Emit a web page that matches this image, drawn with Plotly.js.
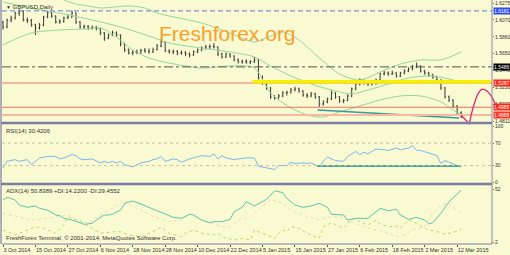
<!DOCTYPE html>
<html><head><meta charset="utf-8">
<script src="https://cdn.plot.ly/plotly-3.0.1.min.js"></script>
<style>html,body{margin:0;padding:0;background:#f9f9d2;}#chart{width:510px;height:255px;}</style>
</head><body><div id="chart"></div>
<script>
// ---------- data ----------
const firstDay = '2014-10-03';
const holidays = ['2014-12-25', '2015-01-01'];
const barCount = 114;

const open = [1.6040,1.5981,1.6068,1.6093,1.6155,1.6180,1.6068,1.6060,1.6006,1.5969,
1.6006,1.6105,1.6155,1.6117,1.6043,1.6050,1.6093,1.6105,1.6155,1.6043,
1.5981,1.5990,1.5969,1.5975,1.5960,1.5907,1.5845,1.5882,1.5907,1.5882,
1.5770,1.5696,1.5658,1.5665,1.5671,1.5690,1.5683,1.5671,1.5700,1.5745,
1.5795,1.5683,1.5671,1.5680,1.5658,1.5665,1.5646,1.5634,1.5671,1.5696,
1.5720,1.5733,1.5740,1.5733,1.5646,1.5609,1.5646,1.5621,1.5572,1.5547,
1.5555,1.5547,1.5550,1.5572,1.5348,1.5286,1.5224,1.5113,1.5100,1.5125,
1.5162,1.5170,1.5199,1.5212,1.5187,1.5137,1.5125,1.5150,1.5113,1.5026,
1.5051,1.5088,1.5162,1.5113,1.5063,1.5070,1.5125,1.5212,1.5274,1.5323,
1.5286,1.5274,1.5280,1.5323,1.5398,1.5410,1.5400,1.5410,1.5373,1.5410,
1.5435,1.5460,1.5485,1.5497,1.5435,1.5410,1.5385,1.5361,1.5323,1.5224,
1.5113,1.5075,1.5001,1.4914];
const high = [1.6060,1.6085,1.6120,1.6170,1.6200,1.6185,1.6100,1.6080,1.6020,1.6030,
1.6120,1.6180,1.6165,1.6125,1.6075,1.6110,1.6135,1.6185,1.6160,1.6055,
1.6010,1.6005,1.6000,1.5995,1.5970,1.5920,1.5900,1.5935,1.5925,1.5890,
1.5785,1.5715,1.5690,1.5700,1.5710,1.5720,1.5715,1.5725,1.5770,1.5830,
1.5800,1.5705,1.5700,1.5695,1.5690,1.5680,1.5665,1.5690,1.5715,1.5740,
1.5760,1.5765,1.5780,1.5740,1.5660,1.5665,1.5655,1.5630,1.5590,1.5575,
1.5580,1.5570,1.5610,1.5580,1.5380,1.5300,1.5235,1.5135,1.5150,1.5185,
1.5190,1.5225,1.5240,1.5230,1.5195,1.5160,1.5175,1.5165,1.5125,1.5070,
1.5105,1.5190,1.5170,1.5125,1.5090,1.5145,1.5230,1.5290,1.5345,1.5330,
1.5300,1.5305,1.5340,1.5415,1.5440,1.5430,1.5440,1.5420,1.5425,1.5455,
1.5480,1.5510,1.5540,1.5505,1.5450,1.5425,1.5400,1.5375,1.5330,1.5235,
1.5130,1.5085,1.5010,1.4935];
const low = [1.5950,1.5965,1.6040,1.6075,1.6120,1.6050,1.6030,1.5985,1.5880,1.5950,
1.5990,1.6090,1.6095,1.6025,1.6020,1.6035,1.6080,1.6095,1.6020,1.5960,
1.5955,1.5945,1.5950,1.5940,1.5880,1.5810,1.5830,1.5870,1.5860,1.5740,
1.5670,1.5640,1.5630,1.5645,1.5650,1.5660,1.5650,1.5660,1.5690,1.5730,
1.5670,1.5650,1.5645,1.5630,1.5635,1.5620,1.5605,1.5625,1.5655,1.5680,
1.5700,1.5705,1.5715,1.5620,1.5590,1.5595,1.5600,1.5555,1.5530,1.5525,
1.5525,1.5520,1.5535,1.5330,1.5265,1.5200,1.5090,1.5080,1.5090,1.5110,
1.5130,1.5155,1.5180,1.5165,1.5115,1.5100,1.5110,1.5090,1.4990,1.5005,
1.5035,1.5075,1.5090,1.5040,1.5035,1.5060,1.5110,1.5195,1.5255,1.5265,
1.5250,1.5255,1.5265,1.5310,1.5380,1.5375,1.5385,1.5355,1.5360,1.5395,
1.5420,1.5445,1.5470,1.5415,1.5390,1.5365,1.5340,1.5300,1.5200,1.5095,
1.5050,1.4975,1.4895,1.4850];
const close = [1.5981,1.6068,1.6093,1.6155,1.6180,1.6068,1.6060,1.6006,1.5969,1.6006,
1.6105,1.6155,1.6117,1.6043,1.6050,1.6093,1.6105,1.6155,1.6043,1.5981,
1.5990,1.5969,1.5975,1.5960,1.5907,1.5845,1.5882,1.5907,1.5882,1.5770,
1.5696,1.5658,1.5665,1.5671,1.5690,1.5683,1.5671,1.5700,1.5745,1.5795,
1.5683,1.5671,1.5680,1.5658,1.5665,1.5646,1.5634,1.5671,1.5696,1.5720,
1.5733,1.5740,1.5733,1.5646,1.5609,1.5646,1.5621,1.5572,1.5547,1.5555,
1.5547,1.5550,1.5572,1.5348,1.5286,1.5224,1.5113,1.5100,1.5125,1.5162,
1.5170,1.5199,1.5212,1.5187,1.5137,1.5125,1.5150,1.5113,1.5026,1.5051,
1.5088,1.5162,1.5113,1.5063,1.5070,1.5125,1.5212,1.5274,1.5323,1.5286,
1.5274,1.5280,1.5323,1.5398,1.5410,1.5400,1.5410,1.5373,1.5410,1.5435,
1.5460,1.5485,1.5497,1.5435,1.5410,1.5385,1.5361,1.5323,1.5224,1.5113,
1.5075,1.5001,1.4914,1.4864];

// Bollinger bands (bar index, price)
const bbUpperIdx = [0,9,15,18,21,24,31,35,38,41,49,56,62,66,69,73,78,83,88,93,98,103,108,113];
const bbUpper = [1.6688,1.6465,1.6316,1.6266,1.6242,1.6217,1.6242,1.6217,1.6155,1.6117,1.6031,1.5907,1.5795,1.5869,1.5919,1.5820,1.5596,1.5398,1.5323,1.5423,1.5522,1.5572,1.5572,1.5671];
const bbMidIdx = [0,7,15,22,29,36,41,49,56,62,66,71,76,81,86,90,95,100,105,110,113];
const bbMid = [1.6291,1.6217,1.6142,1.6068,1.5981,1.5869,1.5783,1.5720,1.5671,1.5609,1.5497,1.5373,1.5274,1.5199,1.5150,1.5199,1.5274,1.5348,1.5373,1.5336,1.5286];
const bbLowerIdx = [0,7,14,20,24,28,32,36,41,49,56,62,66,71,76,79,83,88,93,98,103,108,111,113];
const bbLower = [1.5758,1.5907,1.5944,1.5956,1.5969,1.5857,1.5696,1.5596,1.5534,1.5472,1.5497,1.5472,1.5162,1.4976,1.4877,1.4864,1.4926,1.5001,1.5075,1.5125,1.5125,1.5051,1.4951,1.4889];

// RSI(14)
const rsiIdx = [0,1,3,4,6,7,8,9,11,13,14,15,17,18,19,20,22,24,25,26,27,28,29,30,32,33,34,36,37,38,39,40,42,43,44,46,48,49,51,52,53,54,55,57,58,60,62,63,65,67,68,70,71,72,74,75,76,78,79,80,82,84,85,87,88,89,90,92,94,95,97,98,100,101,102,103,105,107,108,109,110,112,113];
const rsiVal = [26.0,37.6,40.6,37.6,40.6,31.8,37.6,43.6,46.4,46.4,41.9,43.6,49.4,47.7,41.9,40.6,41.9,34.8,37.6,34.8,37.6,34.8,37.6,31.8,27.8,31.8,34.8,37.6,40.6,41.9,46.4,37.6,41.9,40.6,36.0,41.9,45.4,47.7,46.4,50.7,41.9,47.7,43.6,40.6,41.9,43.6,43.6,28.8,26.0,23.0,30.0,30.0,35.9,33.6,34.8,33.6,34.8,27.8,37.6,45.4,38.9,37.6,46.4,55.2,49.4,53.5,51.2,59.5,58.2,57.0,61.2,58.2,61.2,65.3,57.0,57.0,52.4,47.7,33.6,39.0,35.9,30.0,30.42];
const rsiLevels = [70, 30];
const rsiTicks = [0, 30, 70, 100];
const rsiTrendIdx = [77.5, 113];
const rsiTrendVal = [29.2, 29.2];

// ADX(14)
const adxIdx = [0,1,3,4,6,8,9,11,13,14,15,17,19,20,22,23,25,26,27,29,30,32,34,36,38,40,42,44,46,47,49,51,52,54,56,57,59,60,62,65,67,69,70,72,74,76,78,80,81,84,85,87,90,91,93,95,97,98,100,102,104,105,106,108,110,113];
const adxVal = [41.8,44.3,41.8,37.1,35.0,36.2,34.0,32.4,27.8,27.1,24.7,23.1,20.6,19.1,20.1,23.1,27.8,27.8,28.7,32.4,38.7,40.8,38.0,35.0,31.8,28.4,25.6,24.7,28.4,27.8,23.1,20.6,21.6,21.6,23.8,30.9,35.0,40.2,36.2,42.4,50.4,48.6,43.3,37.1,35.0,36.2,38.7,35.0,28.4,27.8,23.1,24.7,24.7,27.8,34.0,31.8,33.1,27.8,23.8,25.6,23.1,19.5,20.6,29.3,40.2,50.84];
const pdiIdx = [0,3,5,8,10,13,15,16,17,20,22,24,27,29,31,34,36,39,41,44,45,47,49,52,53,55,58,59,61,62,65,67,68,69,70,71,73,75,78,79,81,83,84,86,87,90,92,93,95,97,98,100,102,103,105,107,109,111,113];
const pdiVal = [13.8,9.2,12.2,16.9,15.4,10.8,18.5,26.2,24.7,20.1,15.4,10.8,12.2,12.2,9.2,7.6,10.8,16.3,10.8,7.6,10.8,13.8,10.8,9.2,10.8,6.1,4.5,6.1,4.5,13.8,9.2,6.1,10.8,13.8,12.2,16.9,15.4,10.8,6.1,16.9,20.6,17.5,15.4,24.7,23.1,18.5,23.1,19.4,16.9,17.5,15.4,23.1,20.1,17.5,13.8,12.5,10.0,11.5,14.22];
const mdiIdx = [0,7,14,16,21,24,27,29,30,32,35,37,41,44,46,48,50,54,56,58,61,62,65,66,69,71,74,78,80,83,85,87,89,92,94,97,99,101,104,106,108,110,111,113];
const mdiVal = [29.4,23.1,26.2,27.8,20.1,27.8,34.0,38.7,41.8,35.5,30.9,26.2,21.6,23.1,29.4,24.7,21.6,16.9,16.9,23.1,26.2,29.4,38.7,42.4,38.7,32.4,27.8,23.1,25.6,26.2,23.1,20.1,16.9,13.8,12.2,7.6,9.2,13.8,16.9,29.4,37.1,38.7,35.0,29.45];
const adxTicks = [2, 52];

// price levels and drawings
const priceTicks = [1.6275,1.6070,1.5860,1.5650,1.5440,1.5230,1.5020,1.4811];
const levelPrices = [1.6181, 1.5486, 1.5287, 1.4985, 1.4888];
const yellowZonePrice = 1.5301;
const yellowZoneStartIdx = 61.5;
const trendIdx = [77.6, 112.5];
const trendPrice = [1.4951, 1.4852];
const forecastIdx = [113, 115, 117.0, 118.7, 120.4, 121.9];
const forecastPrice = [1.4885, 1.4782, 1.5260, 1.5205, 1.5180, 1.4955];

const tickDates = ['2014-10-03','2014-10-15','2014-10-27','2014-11-06','2014-11-18','2014-11-28','2014-12-10','2014-12-22','2015-01-05','2015-01-15','2015-01-27','2015-02-06','2015-02-18','2015-03-02','2015-03-12'];
const tickText = ['3 Oct 2014','15 Oct 2014','27 Oct 2014','6 Nov 2014','18 Nov 2014','28 Nov 2014','10 Dec 2014','22 Dec 2014','5 Jan 2015','15 Jan 2015','27 Jan 2015','6 Feb 2015','18 Feb 2015','2 Mar 2015','12 Mar 2015'];

// ---------- build ----------
function tradingDays(start, n, skip) {
  const out = []; const d = new Date(start + 'T00:00:00Z');
  while (out.length < n) {
    const wd = d.getUTCDay(); const s = d.toISOString().slice(0, 10);
    if (wd !== 0 && wd !== 6 && !skip.includes(s)) out.push(s);
    d.setUTCDate(d.getUTCDate() + 1);
  }
  return out;
}
const dates = tradingDays(firstDay, barCount, holidays);
const idx = dates.map((_, i) => i);
const tickIdx = tickDates.map(d => dates.indexOf(d));

const FONT = 'Liberation Sans, Arial, sans-serif';
const xr = [-0.25, 120.6];
const yr = [1.4802, 1.6316];
const bbColor = '#93d69c';

const traces = [
  {type:'scatter', mode:'lines', x:bbUpperIdx, y:bbUpper, line:{color:bbColor, width:1, shape:'spline', smoothing:0.8}, xaxis:'x', yaxis:'y'},
  {type:'scatter', mode:'lines', x:bbMidIdx, y:bbMid, line:{color:bbColor, width:1, shape:'spline', smoothing:0.8}, xaxis:'x', yaxis:'y'},
  {type:'scatter', mode:'lines', x:bbLowerIdx, y:bbLower, line:{color:bbColor, width:1, shape:'spline', smoothing:0.8}, xaxis:'x', yaxis:'y'},
  {type:'scatter', mode:'lines', x:trendIdx, y:trendPrice, line:{color:'#3a9a9a', width:1.6}, xaxis:'x', yaxis:'y'},
  {type:'ohlc', x:idx, open:open, high:high, low:low, close:close, xaxis:'x', yaxis:'y',
   increasing:{line:{color:'#3a3a3a', width:1}}, decreasing:{line:{color:'#3a3a3a', width:1}}, tickwidth:0.25},
  {type:'scatter', mode:'lines', x:rsiIdx, y:rsiVal, line:{color:'#7ab8ec', width:1}, xaxis:'x', yaxis:'y2'},
  {type:'scatter', mode:'lines', x:rsiTrendIdx, y:rsiTrendVal, line:{color:'#4aa898', width:2}, xaxis:'x', yaxis:'y2'},
  {type:'scatter', mode:'lines', x:mdiIdx, y:mdiVal, line:{color:'#f3d9b6', width:1, dash:'dot'}, xaxis:'x', yaxis:'y3'},
  {type:'scatter', mode:'lines', x:pdiIdx, y:pdiVal, line:{color:'#bcd86a', width:1, dash:'dot'}, xaxis:'x', yaxis:'y3'},
  {type:'scatter', mode:'lines', x:adxIdx, y:adxVal, line:{color:'#5cc6ac', width:1}, xaxis:'x', yaxis:'y3'}
];

const levelStyle = [
  {color:'#6a78e6', width:1, dash:'5px,3px', box:'#2f4cf0'},
  {color:'#555555', width:1, dash:'dashdot', box:'#000000'},
  {color:'#f4a08a', width:1.5, dash:'solid', box:'#ff2a1a'},
  {color:'#f07060', width:1, dash:'solid', box:'#ff2a1a'},
  {color:'#f8b8a2', width:2, dash:'solid', box:'#ff3322'}
];

const shapes = [];
levelPrices.forEach((p, k) => {
  shapes.push({type:'line', xref:'paper', yref:'y', x0:0, x1:1, y0:p, y1:p, line:levelStyle[k]});
});
shapes.push({type:'line', xref:'x', yref:'y', x0:yellowZoneStartIdx, x1:xr[1], y0:yellowZonePrice, y1:yellowZonePrice, line:{color:'#f4f000', width:3.5}});
rsiLevels.forEach(v => shapes.push({type:'line', xref:'paper', yref:'y2', x0:0, x1:1, y0:v, y1:v, line:{color:'#c4c4a4', width:1, dash:'dot'}}));

// forecast curve (hand drawing) in domain coordinates so it is not clipped
const fx = i => (i - xr[0]) / (xr[1] - xr[0]);
const fy = p => (p - yr[0]) / (yr[1] - yr[0]);
const P = forecastIdx.map((i, k) => fx(i).toFixed(4) + ',' + fy(forecastPrice[k]).toFixed(4));
shapes.push({type:'path', xref:'x domain', yref:'y domain',
  path:'M' + P[0] + ' L' + P[1] + ' Q' + P[2] + ' ' + P[3] + ' Q' + P[4] + ' ' + P[5],
  line:{color:'#e8207a', width:1.3}});

// panel frames
const sepColor = '#7c7ca6';
shapes.push({type:'line', xref:'paper', yref:'paper', x0:-0.002, x1:1, y0:0.4959, y1:0.4959, line:{color:sepColor, width:2.5}});
shapes.push({type:'line', xref:'paper', yref:'paper', x0:-0.002, x1:1, y0:0.2459, y1:0.2459, line:{color:sepColor, width:2.5}});
shapes.push({type:'line', xref:'paper', yref:'paper', x0:-0.002, x1:-0.002, y0:0, y1:1, line:{color:sepColor, width:1.2}});
shapes.push({type:'line', xref:'paper', yref:'paper', x0:1, x1:1, y0:0, y1:1, line:{color:'#8a8ab0', width:1}});
shapes.push({type:'line', xref:'paper', yref:'paper', x0:0, x1:1, y0:0, y1:0, line:{color:sepColor, width:1}});

const annotations = [];
levelPrices.forEach((p, k) => {
  annotations.push({xref:'paper', yref:'y', x:1, y:p, xanchor:'left', yanchor:'middle', xshift:1,
    text:p.toFixed(4), showarrow:false, bgcolor:levelStyle[k].box, borderpad:0,
    font:{family:FONT, size:5, color:'#ffffff'}});
});
annotations.push({xref:'paper', yref:'paper', x:0.461, y:0.918, text:'Freshforex.org', showarrow:false,
  font:{family:FONT, size:21, color:'#f6a12c'}});
annotations.push({xref:'paper', yref:'paper', x:0.004, y:0.992, xanchor:'left', yanchor:'top', showarrow:false,
  text:'<span style="font-size:5px">▼</span> GBPUSD,Daily', font:{family:FONT, size:6, color:'#333'}});
annotations.push({xref:'paper', yref:'paper', x:0.004, y:0.485, xanchor:'left', yanchor:'top', showarrow:false,
  text:'RSI(14) 30.4206', font:{family:FONT, size:6, color:'#333'}});
annotations.push({xref:'paper', yref:'paper', x:0.004, y:0.236, xanchor:'left', yanchor:'top', showarrow:false,
  text:'ADX(14) 50.8389 +DI:14.2200 -DI:29.4552', font:{family:FONT, size:6, color:'#333'}});
annotations.push({xref:'paper', yref:'paper', x:0.004, y:0.006, xanchor:'left', yanchor:'bottom', showarrow:false,
  text:'FreshForex Terminal, © 2001-2014, MetaQuotes Software Corp.', font:{family:FONT, size:6, color:'#333'}});

const yCommon = {side:'right', showgrid:false, zeroline:false, ticks:'outside', ticklen:1, tickcolor:'#666',
  tickfont:{family:FONT, size:5, color:'#333'}, fixedrange:true, showline:false, ticklabelstandoff:0};

const layout = {
  width:510, height:255,
  margin:{l:2, r:18, t:0, b:11},
  paper_bgcolor:'#f9f9d2', plot_bgcolor:'#f9f9d2',
  showlegend:false, hovermode:false,
  xaxis:{range:xr, anchor:'y3', rangeslider:{visible:false}, showgrid:false, zeroline:false,
    tickvals:tickIdx, ticktext:tickText, ticks:'outside', ticklen:2, tickcolor:'#555', tickangle:0,
    ticklabelposition:'outside right', ticklabelstandoff:0, tickfont:{family:FONT, size:5.5, color:'#333'}, showline:false},
  yaxis:Object.assign({}, yCommon, {domain:[0.5, 1], range:yr, tickvals:priceTicks, ticktext:priceTicks.map(v => v.toFixed(4)), anchor:'x'}),
  yaxis2:Object.assign({}, yCommon, {domain:[0.2500, 0.4898], range:[-1, 103.2], tickvals:rsiTicks, anchor:'x'}),
  yaxis3:Object.assign({}, yCommon, {domain:[0, 0.2398], range:[0.8, 55.3], tickvals:adxTicks, anchor:'x'}),
  shapes:shapes, annotations:annotations
};

Plotly.newPlot('chart', traces, layout, {staticPlot:true, displayModeBar:false});
</script></body></html>
